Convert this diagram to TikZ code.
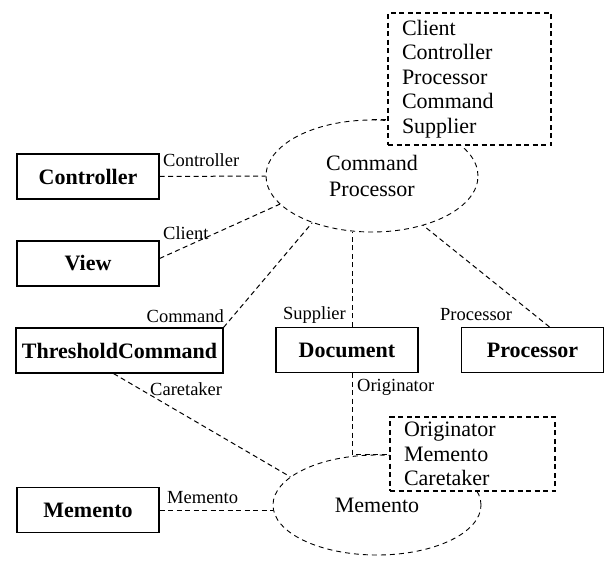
\documentclass[tikz,border=0pt]{standalone}
\usepackage{fontspec}
\setmainfont{Liberation Serif}
\usetikzlibrary{shapes.geometric}
\begin{document}
\begin{tikzpicture}[x=1pt,y=-1pt,
  classbox/.style={draw,line width=1.1pt,fill=white,minimum width=142pt,minimum height=45pt,
    inner sep=0pt,font=\fontsize{22}{24}\selectfont\bfseries},
  roleset/.style={draw,dashed,dash pattern=on 5pt off 3.5pt,line width=1.5pt,fill=white,
    align=left,inner xsep=14pt,inner ysep=0pt,font=\fontsize{22}{24.5}\selectfont},
  collab/.style={ellipse,draw,line width=0.9pt,dash pattern=on 5pt off 4pt,inner sep=0pt,
    align=center,font=\fontsize{22}{26}\selectfont},
  link/.style={line width=1pt,dash pattern=on 5pt off 3.5pt},
  role/.style={inner sep=0pt,font=\fontsize{18.5}{20}\selectfont}]
\useasboundingbox (0,0) rectangle (605,565);

% collaborations
\node[collab,minimum width=212pt,minimum height=112pt] (cp) at (372,176) {Command\\Processor};
\node[collab,minimum width=208pt,minimum height=100pt] (me) at (377,505) {Memento};

% role lists
\node[roleset,text width=135pt,minimum height=132pt] (cproles) at (469.5,79)
  {Client\\Controller\\Processor\\Command\\Supplier};
\node[roleset,text width=137pt,minimum height=74pt] (meroles) at (472.5,454)
  {Originator\\Memento\\Caretaker};

% classes
\node[classbox] (ctrl) at (88,176.5) {Controller};
\node[classbox] (view) at (88,263.5) {View};
\node[classbox,minimum width=207pt] (tc) at (119.5,350.5) {ThresholdCommand};
\node[classbox] (doc) at (347,350) {Document};
\node[classbox] (proc) at (532.5,350) {Processor};
\node[classbox] (memo) at (88,510) {Memento};

% role bindings
\draw[link] (cp.north) -- (cp.north -| cproles.west);
\draw[link] (ctrl.east) -- (cp.west);
\draw[link] ([yshift=5pt]view.east) -- (cp.197.5);
\draw[link] (tc.north east) -- (cp.218.5);
\draw[link] ([xshift=5pt]doc.north) -- ([xshift=5pt]doc.north |- cp.south);
\draw[link] ([xshift=17pt]proc.north) -- (cp.316);
\draw[link] ([xshift=-6pt]tc.south) -- (me.162.4);
\draw[link] ([xshift=5pt]doc.south) |- (meroles.west);
\draw[link] (memo.east) -- (memo.east -| me.west);

% role names
\node[role,anchor=west] (lctrl) at (163,160) {Controller};
\node[role,anchor=west] (lclient) at (163,233) {Client};
\node[role,anchor=east] (lcmd) at (224,316) {Command};
\node[role,anchor=east] (lsup) at (346,315) {Supplier};
\node[role,anchor=west] (lproc) at (440,315) {Processor};
\node[role,anchor=west] (lcare) at (150,389) {Caretaker};
\node[role,anchor=west] (lorig) at (357,387) {Originator};
\node[role,anchor=west] (lmemo) at (167,498) {Memento};
\end{tikzpicture}
\end{document}
